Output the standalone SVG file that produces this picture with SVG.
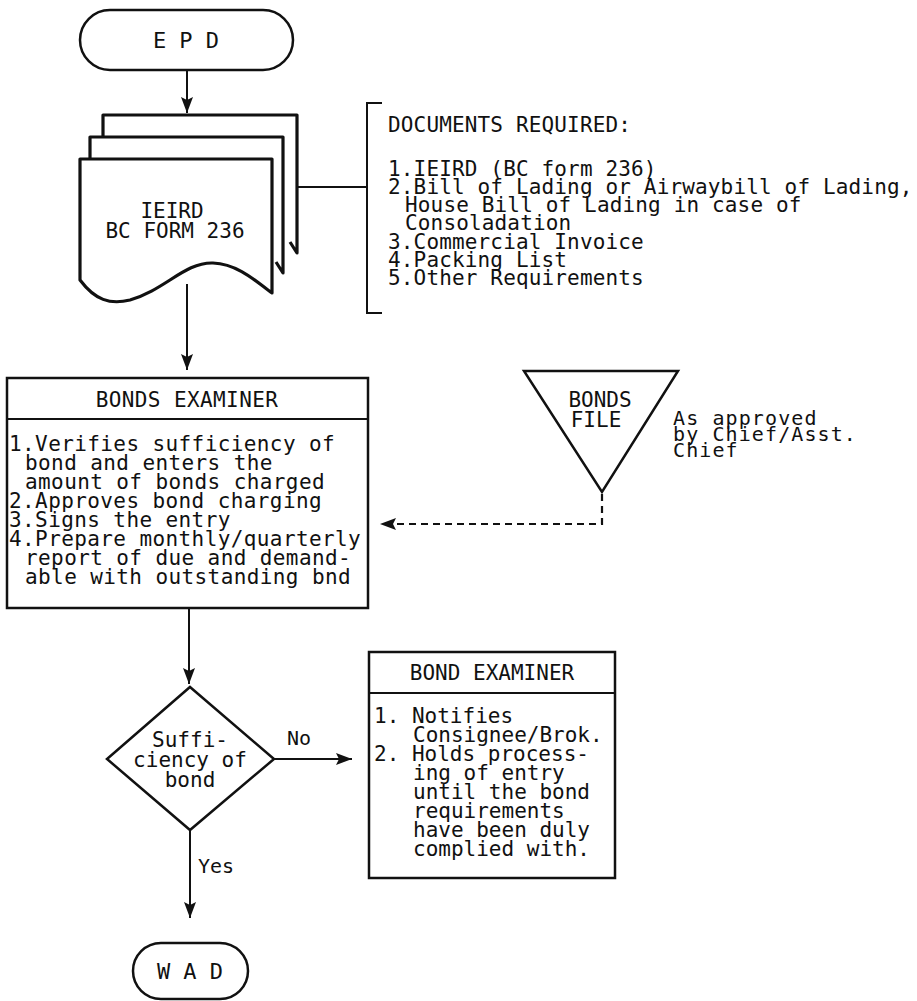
<svg xmlns="http://www.w3.org/2000/svg" width="917" height="1001" viewBox="0 0 917 1001">
<defs>
<style>
text{font-family:"DejaVu Sans Mono","Liberation Mono",monospace;font-size:21px;fill:#111}
.c{text-anchor:middle}
.sm{font-size:20px}
.note{font-size:20px;letter-spacing:1.1px}
.box{letter-spacing:0.4px}
.docs{letter-spacing:0.15px}
.term{font-size:22px}
.shape{fill:#fff;stroke:#111;stroke-width:2.5}
.doc{fill:#fff;stroke:#111;stroke-width:3.2;stroke-linejoin:round}
.ln{fill:none;stroke:#111;stroke-width:2}
.dash{fill:none;stroke:#111;stroke-width:2.2;stroke-dasharray:7 5}
</style>
<marker id="ahb" viewBox="0 0 16 12" refX="16" refY="6" markerWidth="16" markerHeight="12" markerUnits="userSpaceOnUse" orient="auto">
<path d="M0,0 L16,6 L0,12 L3,6 Z" fill="#111"/>
</marker>
</defs>
<rect width="917" height="1001" fill="#fff"/>

<g id="connectors">
<line class="ln" x1="187" y1="70" x2="187" y2="113" marker-end="url(#ahb)"/>
<line class="ln" x1="297" y1="187" x2="367" y2="187"/>
<line class="ln" x1="187" y1="284" x2="187" y2="370" marker-end="url(#ahb)"/>
<polyline class="dash" points="602,494 602,524 380,524" marker-end="url(#ahb)"/>
<line class="ln" x1="189" y1="608" x2="189" y2="684" marker-end="url(#ahb)"/>
<line class="ln" x1="274" y1="759" x2="352" y2="759" marker-end="url(#ahb)"/>
<line class="ln" x1="190" y1="830" x2="190" y2="918" marker-end="url(#ahb)"/>
<text x="287" y="745" class="sm">No</text>
<text x="198" y="873" class="sm">Yes</text>
</g>

<g id="epd">
<rect class="shape" x="80" y="10" width="213" height="60" rx="30" ry="30" stroke-width="3"/>
<text x="186" y="48" class="c term">E P D</text>
</g>

<g id="ieird-doc">
<path class="doc" d="M103,137 V115 H297 V253 L290,242"/>
<path class="doc" d="M90,159 V137 H283 V273 L276,262"/>
<path class="doc" d="M80,159 H272 V293 C260,285 240,264 213,263 C185,262 165,290 130,300 C110,305 95,300 80,280 Z"/>
<text x="172" y="218" class="c">IEIRD</text>
<text x="175" y="238" class="c">BC FORM 236</text>
</g>

<g id="documents-required" class="docs">
<path class="ln" d="M382,103 H367 V313 H382"/>
<text x="388" y="132" class="docs">DOCUMENTS REQUIRED:</text>
<text x="388" y="176" class="docs">1.IEIRD (BC form 236)</text>
<text x="388" y="194" class="docs">2.Bill of Lading or Airwaybill of Lading,</text>
<text x="405" y="212" class="docs">House Bill of Lading in case of</text>
<text x="405" y="230" class="docs">Consoladation</text>
<text x="388" y="249" class="docs">3.Commercial Invoice</text>
<text x="388" y="267" class="docs">4.Packing List</text>
<text x="388" y="285" class="docs">5.Other Requirements</text>
</g>

<g id="bonds-examiner">
<rect class="shape" x="7" y="378" width="361" height="230" stroke-width="2"/>
<line class="ln" x1="7" y1="419" x2="368" y2="419"/>
<text x="187" y="407" class="c box">BONDS EXAMINER</text>
<text x="9" y="451" class="box">1.Verifies sufficiency of</text>
<text x="25" y="470" class="box">bond and enters the</text>
<text x="25" y="489" class="box">amount of bonds charged</text>
<text x="9" y="508" class="box">2.Approves bond charging</text>
<text x="9" y="527" class="box">3.Signs the entry</text>
<text x="9" y="546" class="box">4.Prepare monthly/quarterly</text>
<text x="25" y="565" class="box">report of due and demand-</text>
<text x="25" y="584" class="box">able with outstanding bnd</text>
</g>

<g id="bonds-file">
<polygon class="shape" points="524,371 678,371 602,492" stroke-width="3"/>
<text x="600" y="407" class="c">BONDS</text>
<text x="596" y="427" class="c">FILE</text>
</g>

<g id="approval-note">
<text x="673" y="425" class="note">As approved</text>
<text x="673" y="441" class="note">by Chief/Asst.</text>
<text x="673" y="457" class="note">Chief</text>
</g>

<g id="sufficiency-decision">
<polygon class="shape" points="190,687 274,759 190,830 107,759"/>
<text x="190" y="747" class="c">Suffi-</text>
<text x="190" y="767" class="c">ciency of</text>
<text x="190" y="787" class="c">bond</text>
</g>

<g id="bond-examiner">
<rect class="shape" x="369" y="652" width="246" height="226" stroke-width="2"/>
<line class="ln" x1="369" y1="693" x2="615" y2="693"/>
<text x="492" y="680" class="c">BOND EXAMINER</text>
<text x="374" y="723">1. Notifies</text>
<text x="413" y="742">Consignee/Brok.</text>
<text x="374" y="761">2. Holds process-</text>
<text x="413" y="780">ing of entry</text>
<text x="413" y="799">until the bond</text>
<text x="413" y="818">requirements</text>
<text x="413" y="837">have been duly</text>
<text x="413" y="856">complied with.</text>
</g>

<g id="wad">
<rect class="shape" x="133" y="943" width="115" height="56" rx="28" ry="28" stroke-width="3"/>
<text x="190" y="979" class="c term">W A D</text>
</g>
</svg>
